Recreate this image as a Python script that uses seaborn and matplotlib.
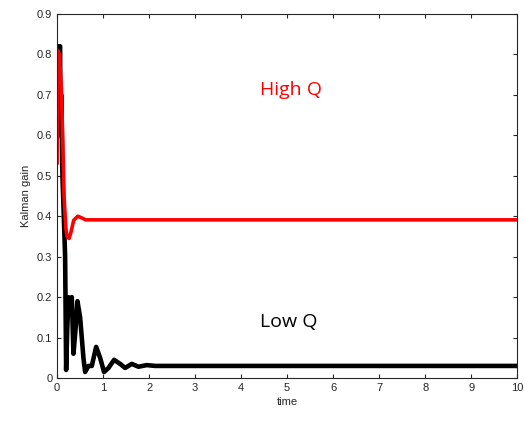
import pandas as pd
import matplotlib
matplotlib.use('Agg')
import matplotlib.pyplot as plt
import seaborn as sns

# Kalman gain over time
time_low = [0.0, 0.03, 0.065, 0.07, 0.09, 0.116, 0.14, 0.174, 0.196, 0.22, 0.246,
            0.283, 0.319, 0.355, 0.40, 0.442, 0.50, 0.572, 0.609, 0.681, 0.754,
            0.848, 0.935, 1.02, 1.116, 1.239, 1.37, 1.478, 1.623, 1.768, 1.949,
            2.13, 2.3, 10.0]
gain_low = [0.82, 0.82, 0.82, 0.60, 0.70, 0.50, 0.42, 0.30, 0.02, 0.12, 0.20,
            0.17, 0.20, 0.06, 0.12, 0.19, 0.15, 0.05, 0.015, 0.03, 0.03,
            0.077, 0.05, 0.015, 0.025, 0.045, 0.035, 0.025, 0.035, 0.028, 0.032,
            0.03, 0.03, 0.03]

time_high = [0.0, 0.01, 0.05, 0.09, 0.12, 0.15, 0.19, 0.215, 0.26, 0.30, 0.36,
             0.45, 0.55, 0.62, 10.0]
gain_high = [0.53, 0.81, 0.80, 0.72, 0.60, 0.45, 0.37, 0.35, 0.345, 0.36, 0.39,
             0.40, 0.395, 0.391, 0.391]

df_low = pd.DataFrame({'time': time_low, 'gain': gain_low})
df_high = pd.DataFrame({'time': time_high, 'gain': gain_high})

sns.set_style("ticks")
plt.rcParams.update({
    "font.family": ["Liberation Sans", "DejaVu Sans"],
    "xtick.direction": "in",
    "ytick.direction": "in",
    "xtick.labelsize": 8,
    "ytick.labelsize": 8,
    "axes.labelsize": 8,
    "axes.linewidth": 0.8,
})

fig = plt.figure(figsize=(5.24, 4.21), dpi=100)
ax = fig.add_axes([0.109, 0.102, 0.878, 0.865])

sns.lineplot(data=df_low, x='time', y='gain', color='black', linewidth=3.3,
             sort=False, estimator=None, ax=ax)
sns.lineplot(data=df_high, x='time', y='gain', color='#ff0000', linewidth=2.6,
             sort=False, estimator=None, ax=ax)

ax.set_xlim(0, 10)
ax.set_ylim(0, 0.9)
ax.set_xticks(range(0, 11))
ax.set_yticks([0, 0.1, 0.2, 0.3, 0.4, 0.5, 0.6, 0.7, 0.8, 0.9])
ax.set_yticklabels(['0', '0.1', '0.2', '0.3', '0.4', '0.5', '0.6', '0.7', '0.8', '0.9'])
ax.set_xlabel('time', labelpad=3)
ax.set_ylabel('Kalman gain', labelpad=4)
for side in ['top', 'right']:
    ax.spines[side].set_visible(True)
ax.tick_params(top=True, right=True, length=3, width=0.8)

ax.text(4.41, 0.712, 'High Q', color='#ff0000', fontsize=14,
        family='Open Sans', va='center', ha='left')
ax.text(4.41, 0.138, 'Low Q', color='black', fontsize=14,
        family='Open Sans', va='center', ha='left')

plt.savefig('out.png', dpi=100)
